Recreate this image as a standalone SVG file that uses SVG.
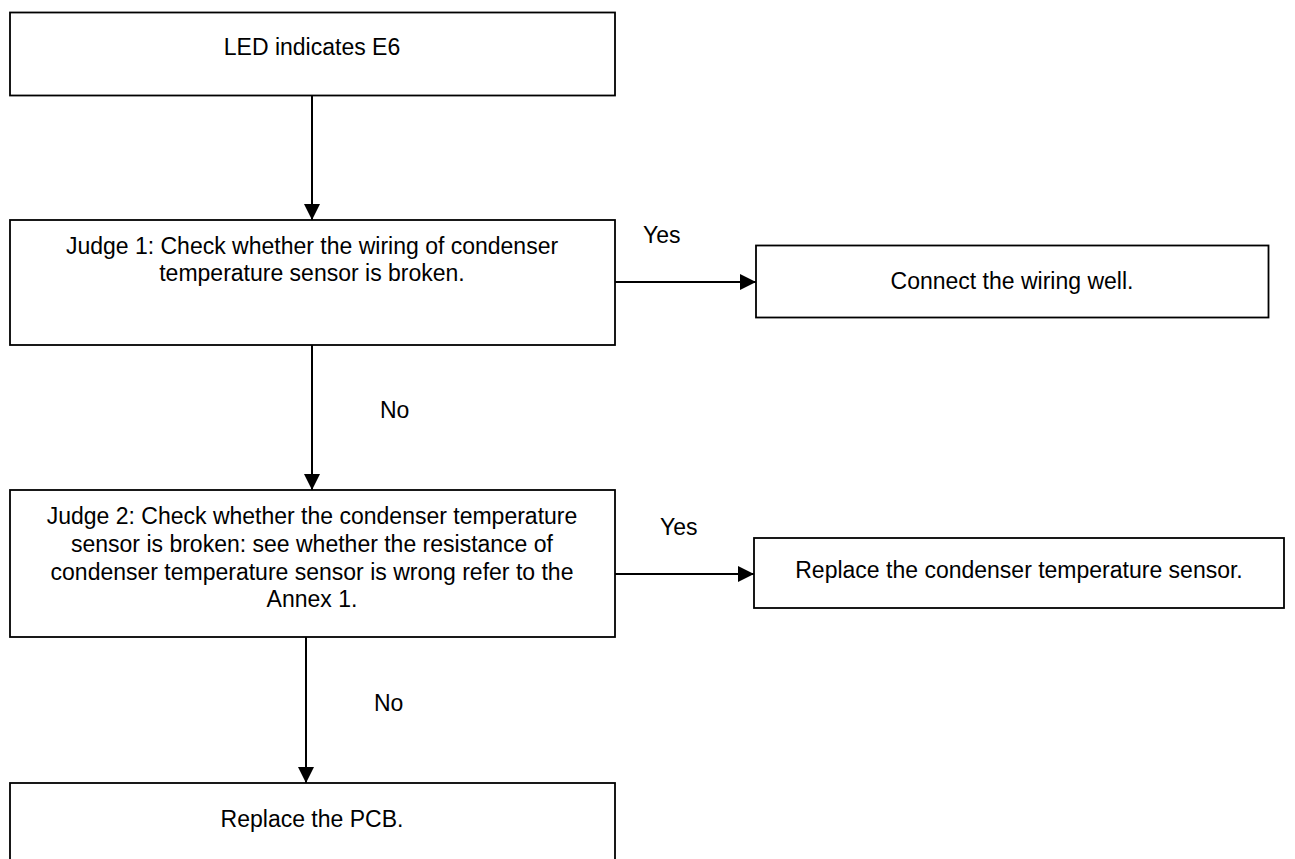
<svg xmlns="http://www.w3.org/2000/svg" width="1295" height="859" viewBox="0 0 1295 859">
  <style>
    .box { fill: #ffffff; stroke: #000000; stroke-width: 1.8; }
    .lbl { font-family: "Liberation Sans", Arial, sans-serif; font-size: 23px; fill: #000000; }
    .mid { text-anchor: middle; }
    .wire { fill: none; stroke: #000000; stroke-width: 2; }
  </style>
  <defs>
    <marker id="arrow" viewBox="0 0 16 16" refX="16" refY="8" markerWidth="16" markerHeight="16" markerUnits="userSpaceOnUse" orient="auto">
      <path d="M0,0 L16,8 L0,16 Z" fill="#000000"/>
    </marker>
  </defs>
  <rect width="1295" height="859" fill="#ffffff"/>

  <!-- connectors -->
  <g id="connectors">
    <line class="wire" x1="312" y1="96" x2="312" y2="220" marker-end="url(#arrow)"/>
    <line class="wire" x1="615" y1="282" x2="756" y2="282" marker-end="url(#arrow)"/>
    <line class="wire" x1="312" y1="345" x2="312" y2="490" marker-end="url(#arrow)"/>
    <line class="wire" x1="615" y1="574" x2="754" y2="574" marker-end="url(#arrow)"/>
    <line class="wire" x1="306" y1="637" x2="306" y2="783" marker-end="url(#arrow)"/>
    <text class="lbl" x="643" y="243">Yes</text>
    <text class="lbl" x="380" y="418">No</text>
    <text class="lbl" x="660" y="535">Yes</text>
    <text class="lbl" x="374" y="711">No</text>
  </g>

  <g id="start">
    <rect class="box" x="10" y="12.5" width="605" height="83"/>
    <text class="lbl mid" x="312" y="55">LED indicates E6</text>
  </g>

  <g id="judge1">
    <rect class="box" x="10" y="220" width="605" height="125"/>
    <text class="lbl mid" x="312" y="254">Judge 1: Check whether the wiring of condenser</text>
    <text class="lbl mid" x="312" y="281">temperature sensor is broken.</text>
  </g>

  <g id="fix-wiring">
    <rect class="box" x="756" y="245.5" width="512.5" height="72"/>
    <text class="lbl mid" x="1012" y="289">Connect the wiring well.</text>
  </g>

  <g id="judge2">
    <rect class="box" x="10" y="490" width="605" height="147"/>
    <text class="lbl mid" x="312" y="524">Judge 2: Check whether the condenser temperature</text>
    <text class="lbl mid" x="312" y="552">sensor is broken: see whether the resistance of</text>
    <text class="lbl mid" x="312" y="580">condenser temperature sensor is wrong refer to the</text>
    <text class="lbl mid" x="312" y="607">Annex 1.</text>
  </g>

  <g id="fix-sensor">
    <rect class="box" x="754" y="538" width="530" height="70"/>
    <text class="lbl mid" x="1019" y="578">Replace the condenser temperature sensor.</text>
  </g>

  <g id="fix-pcb">
    <rect class="box" x="10" y="783" width="605" height="90"/>
    <text class="lbl mid" x="312" y="827">Replace the PCB.</text>
  </g>
</svg>
